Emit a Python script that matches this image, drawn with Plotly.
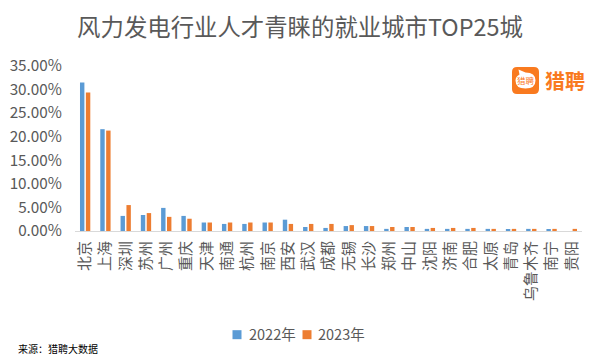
import plotly.graph_objects as go

cities = ["北京","上海","深圳","苏州","广州","重庆","天津","南通","杭州","南京","西安","武汉","成都","无锡","长沙","郑州","中山","沈阳","济南","合肥","太原","青岛","乌鲁木齐","南宁","贵阳"]
y2022 = [31.5,21.6,3.2,3.4,4.9,3.2,1.8,1.5,1.5,1.8,2.4,0.85,0.65,1.05,1.05,0.45,0.85,0.45,0.45,0.45,0.45,0.25,0.45,0.25,0.0]
y2023 = [29.4,21.3,5.5,3.8,3.0,2.6,1.8,1.8,1.8,1.8,1.5,1.5,1.5,1.25,1.05,0.85,0.85,0.65,0.65,0.65,0.45,0.45,0.45,0.45,0.45]
y_ticks = [0,5,10,15,20,25,30,35]
y_labels = ["0.00%","5.00%","10.00%","15.00%","20.00%","25.00%","30.00%","35.00%"]
series_names = ["2022年", "2023年"]
series_colors = ["#5B9BD5", "#ED7D31"]

FONT = "Noto Sans CJK SC"
ORANGE = "#F97A1F"
W, H = 592, 352            # page body has an 8 px margin
L, R, T, B = 67, 18, 57.5, 129
PW, PH = W - L - R, H - T - B
px = lambda x: (x - 8 - L) / PW      # page pixel -> paper
py = lambda y: (H - B - (y - 8)) / PH

fig = go.Figure()
fig.add_bar(name=series_names[0], x=cities, y=y2022, marker_color=series_colors[0], marker_line_width=0)
fig.add_bar(name=series_names[1], x=cities, y=y2023, marker_color=series_colors[1], marker_line_width=0)

fig.update_layout(
    width=W, height=H, autosize=False, showlegend=False,
    paper_bgcolor="white", plot_bgcolor="white",
    barmode="group", bargap=0.42, bargroupgap=0.25,
    margin=dict(l=L, r=R, t=T, b=B, autoexpand=False),
    font=dict(family=FONT, color="#595959", size=14),
    title=dict(text="风力发电行业人才青睐的就业城市TOP25城", x=292 / W, xanchor="center",
               y=1 - 20 / H, yanchor="middle",
               font=dict(size=23.4, family=FONT, color="#595959")),
    xaxis=dict(type="category", tickangle=-90, showline=True, linecolor="#D9D9D9", linewidth=1,
               ticks="outside", ticklen=3, tickcolor="white", showgrid=False,
               tickfont=dict(size=15, color="#595959")),
    yaxis=dict(range=[0, 35], tickvals=y_ticks, ticktext=y_labels, showgrid=False, zeroline=False,
               showline=False, ticks="outside", ticklen=9, tickcolor="white",
               tickfont=dict(size=15.3, color="#595959")),
)

# key below the plot
for name, col, sq_x, tx_x in zip(series_names, series_colors, [237, 307], [248, 317]):
    fig.add_shape(type="rect", xref="paper", yref="paper", xsizemode="pixel", ysizemode="pixel",
                  xanchor=px(sq_x), yanchor=py(335), x0=-4.5, x1=4.5, y0=-4.5, y1=4.5,
                  fillcolor=col, line_width=0)
    fig.add_annotation(text=name, xref="paper", yref="paper", x=px(tx_x), y=py(334), xanchor="left",
                       yanchor="middle", showarrow=False, xshift=-1,
                       font=dict(size=14.5, color="#595959", family=FONT))

fig.add_annotation(text="来源：猎聘大数据", xref="paper", yref="paper", x=px(16), y=py(349),
                   xanchor="left", yanchor="middle", showarrow=False,
                   font=dict(size=10, color="#000000", family=FONT))

# brand mark: rounded square with a speech bubble
a, r = 13.5, 5
square = (f"M {-a+r} {-a} L {a-r} {-a} Q {a} {-a} {a} {-a+r} L {a} {a-r} Q {a} {a} {a-r} {a} "
          f"L {-a+r} {a} Q {-a} {a} {-a} {a-r} L {-a} {-a+r} Q {-a} {-a} {-a+r} {-a} Z")
bubble = "M -10 0 Q -10 -8 0 -8 Q 10 -8 10 0 Q 10 8 0 8 L -7 11 L -6 6 Q -10 4 -10 0 Z"
for path, col in [(square, ORANGE), (bubble, "white")]:
    fig.add_shape(type="path", xref="paper", yref="paper", xsizemode="pixel", ysizemode="pixel",
                  xanchor=px(525.5), yanchor=py(80), path=path, fillcolor=col, line_width=0)
fig.add_annotation(text="猎聘", xref="paper", yref="paper", x=px(525.5), y=py(79.5), xanchor="center",
                   yanchor="middle", showarrow=False, font=dict(size=8.5, color=ORANGE, family=FONT))
fig.add_annotation(text="<b>猎聘</b>", xref="paper", yref="paper", x=px(565), y=py(80), xanchor="center",
                   yanchor="middle", showarrow=False, font=dict(size=20, color=ORANGE, family=FONT))

fig.write_html("out.html")
